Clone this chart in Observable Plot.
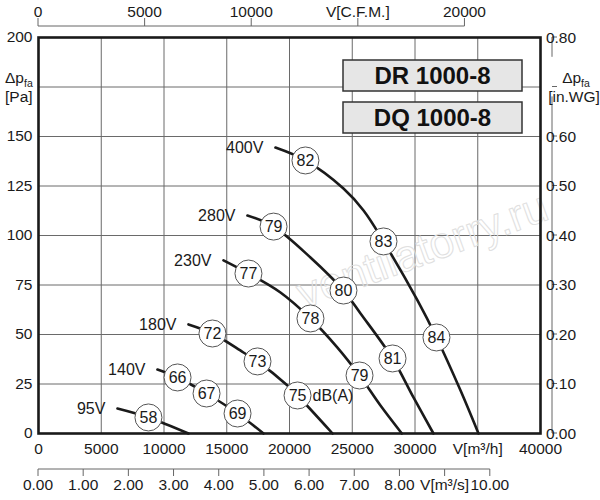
<!DOCTYPE html>
<html>
<head>
<meta charset="utf-8">
<script src="https://cdn.jsdelivr.net/npm/d3@7"></script>
<script src="https://cdn.jsdelivr.net/npm/@observablehq/plot@0.6"></script>
<style>
  html, body { margin: 0; padding: 0; background: #fff; }
  #chart svg { display: block; }
</style>
</head>
<body>
<div id="chart"></div>
<script>
// ---------- data ----------
const models = ["DR 1000-8", "DQ 1000-8"];

const xTicks = [0, 5000, 10000, 15000, 20000, 25000, 30000, 35000, 40000];
const xTickLabels = ["0", "5000", "10000", "15000", "20000", "25000", "30000", "V[m³/h]", "40000"];
const yTicks = [0, 25, 50, 75, 100, 125, 150, 175, 200];
const yTickLabels = ["0", "25", "50", "75", "100", "125", "150", "", "200"];

const cfmTicks = [0, 5000, 10000, 15000, 20000];
const cfmTickLabels = ["0", "5000", "10000", "V[C.F.M.]", "20000"];
const m3sTicks = [0, 1, 2, 3, 4, 5, 6, 7, 8, 9, 10];
const m3sTickLabels = ["0.00", "1.00", "2.00", "3.00", "4.00", "5.00", "6.00", "7.00", "8.00", "V[m³/s]", "10.00"];
const inwgTicks = [0, 0.1, 0.2, 0.3, 0.4, 0.5, 0.6, 0.7, 0.8];
const inwgTickLabels = ["0.00", "0.10", "0.20", "0.30", "0.40", "0.50", "0.60", "", "0.80"];

const voltages = ["400V", "280V", "230V", "180V", "140V", "95V"];
const flow400V = [18880, 21270, 24300, 25900, 27490, 30200, 31710, 33630, 35060];
const pres400V = [144.4, 137.9, 123.7, 112.6, 97.0, 67.2, 48.5, 21.7, 0];
const flow280V = [16650, 18730, 21670, 24300, 25660, 28210, 29880, 31470];
const pres280V = [110.1, 104.5, 88.9, 72.2, 60.6, 37.9, 18.2, 0];
const flow230V = [14740, 16730, 19280, 21670, 23820, 25580, 27250, 28950];
const pres230V = [87.4, 80.8, 71.2, 58.1, 43.4, 29.3, 14.1, 0];
const flow180V = [11950, 13860, 16330, 17450, 19840, 20640, 23430];
const pres180V = [55.1, 50.5, 40.9, 36.4, 24.2, 19.2, 0];
const flow140V = [9480, 11080, 13390, 15860, 17930];
const pres140V = [32.3, 28.3, 20.2, 10.1, 0];
const flow95V = [6290, 8760, 11950];
const pres95V = [12.6, 8.1, 0];

const noiseFlow = [21270, 27490, 31710, 18730, 24300, 28210, 16730, 21670, 25580, 13860, 17450, 20640, 11080, 13390, 15860, 8760];
const noisePres = [137.9, 97.0, 48.5, 104.5, 72.2, 37.9, 80.8, 58.1, 29.3, 50.5, 36.4, 19.2, 28.3, 20.2, 10.1, 8.1];
const noiseDb   = [82, 83, 84, 79, 80, 81, 77, 78, 79, 72, 73, 75, 66, 67, 69, 58];
const noiseUnit = "dB(A)";
const noiseUnitIndex = 11; // the "75" bubble carries the unit

const watermark = "ventilatorry.ru";

// ---------- derived tables ----------
const flows = [flow400V, flow280V, flow230V, flow180V, flow140V, flow95V];
const press = [pres400V, pres280V, pres230V, pres180V, pres140V, pres95V];
const curveRows = voltages.flatMap((v, k) => flows[k].map((f, i) => ({v, flow: f, p: press[k][i]})));
const startRows = voltages.map((v, k) => ({v, flow: flows[k][0], p: press[k][0]}));
const noiseRows = noiseDb.map((d, i) => ({db: String(d), flow: noiseFlow[i], p: noisePres[i]}));
const xLab = new Map(xTicks.map((t, i) => [t, xTickLabels[i]]));
const yLab = new Map(yTicks.map((t, i) => [t, yTickLabels[i]]));

const FONT = "'Liberation Sans', Arial, Helvetica, sans-serif";
const INK = "#1a1a1a";
const GRID = "#6a6a6a";
const AXIS = "#666";

const plot = Plot.plot({
  width: 600,
  height: 500,
  marginLeft: 38,
  marginRight: 60,
  marginTop: 37,
  marginBottom: 67,
  style: {fontFamily: FONT, fontSize: "15.5px", color: INK, background: "#fff", overflow: "visible"},
  x: {domain: [0, 40000], axis: null, label: null},
  y: {domain: [0, 200], axis: null, label: null},
  marks: [
    Plot.ruleX(xTicks, {stroke: GRID, strokeWidth: 1}),
    Plot.ruleY(yTicks, {stroke: GRID, strokeWidth: 1}),
    Plot.text([watermark], {frameAnchor: "middle", dx: 133, dy: 15, rotate: -20, fontSize: 44,
      fill: "none", stroke: "#e0e0e0", strokeWidth: 1, fontFamily: FONT}),
    Plot.line(curveRows, {x: "flow", y: "p", z: "v", stroke: INK, strokeWidth: 2.6, curve: "catmull-rom"}),
    Plot.text(startRows, {x: "flow", y: "p", text: "v", textAnchor: "end", dx: -12, fontSize: 16, fill: INK}),
    Plot.dot(noiseRows, {x: "flow", y: "p", r: 13.5, fill: "#fff", stroke: "#555", strokeWidth: 1}),
    Plot.text(noiseRows, {x: "flow", y: "p", text: "db", fontSize: 16, fill: INK}),
    Plot.text([noiseRows[noiseUnitIndex]], {x: "flow", y: "p", text: () => noiseUnit, textAnchor: "start",
      dx: 15, fontSize: 16, fill: INK}),
    Plot.frame({stroke: INK, strokeWidth: 2.6}),
    Plot.axisY(yTicks, {anchor: "left", label: null, tickSize: 0, tickPadding: 6, tickFormat: d => yLab.get(d), fontSize: 15.5}),
    Plot.axisX(xTicks, {anchor: "bottom", label: null, tickSize: 0, tickPadding: 9, tickFormat: d => xLab.get(d), fontSize: 15.5})
  ]
});

document.getElementById("chart").appendChild(plot);

// ---------- secondary axes, unit labels and model boxes ----------
const svg = d3.select(plot);
const X = plot.scale("x"), Y = plot.scale("y");
const CFM_TO_M3H = 1.699;      // 1 CFM = 1.699 m3/h
const M3S_TO_M3H = 3600;
const INWG_TO_PA = 250;         // axis scaled so 0.80 in.WG aligns with 200 Pa

const g = svg.append("g").attr("font-family", FONT).attr("font-size", 15.5).attr("fill", INK);

// top axis: C.F.M.
const topY = Y.apply(200) - 11;
g.append("line").attr("x1", X.apply(0)).attr("x2", X.apply(cfmTicks[cfmTicks.length - 1] * CFM_TO_M3H))
  .attr("y1", topY).attr("y2", topY).attr("stroke", AXIS);
cfmTicks.forEach((c, i) => {
  const px = X.apply(c * CFM_TO_M3H);
  g.append("line").attr("x1", px).attr("x2", px).attr("y1", topY).attr("y2", topY - 8).attr("stroke", AXIS);
  g.append("text").attr("x", px).attr("y", topY - 9).attr("text-anchor", "middle").text(cfmTickLabels[i]);
});

// bottom secondary axis: m3/s
const botY = Y.apply(0) + 36;
g.append("line").attr("x1", X.apply(0)).attr("x2", X.apply(m3sTicks[m3sTicks.length - 1] * M3S_TO_M3H))
  .attr("y1", botY).attr("y2", botY).attr("stroke", AXIS);
m3sTicks.forEach((c, i) => {
  const px = X.apply(c * M3S_TO_M3H);
  g.append("line").attr("x1", px).attr("x2", px).attr("y1", botY).attr("y2", botY + 7).attr("stroke", AXIS);
  g.append("text").attr("x", px).attr("y", botY + 21).attr("text-anchor", "middle").text(m3sTickLabels[i]);
});

// right axis: in.WG
const rightX = X.apply(40000) + 12;
g.append("line").attr("x1", rightX).attr("x2", rightX)
  .attr("y1", Y.apply(200)).attr("y2", Y.apply(190)).attr("stroke", AXIS);
g.append("line").attr("x1", rightX).attr("x2", rightX)
  .attr("y1", Y.apply(170)).attr("y2", Y.apply(0)).attr("stroke", AXIS);
inwgTicks.forEach((w, i) => {
  const py = Y.apply(w * INWG_TO_PA);
  g.append("line").attr("x1", rightX).attr("x2", rightX + 5).attr("y1", py).attr("y2", py).attr("stroke", AXIS);
  g.append("text").attr("x", rightX + 9).attr("y", py).attr("dy", "0.36em").text(inwgTickLabels[i]);
});

// unit labels Δp_fa
function dpLabel(x, anchor, unit, unitX) {
  const t = g.append("text").attr("x", x).attr("y", 83).attr("text-anchor", anchor);
  t.append("tspan").text("Δp");
  t.append("tspan").attr("font-size", 10.5).attr("dy", 4).text("fa");
  g.append("text").attr("x", unitX).attr("y", 102).attr("text-anchor", anchor).text(unit);
}
dpLabel(5, "start", "[Pa]", 5);
dpLabel(576, "middle", "[in.WG]", 574);

// model boxes
const boxX0 = 343, boxW = 179, boxH = 31;
const boxTops = [60, 102];
models.forEach((m, i) => {
  g.append("rect").attr("x", boxX0).attr("y", boxTops[i]).attr("width", boxW).attr("height", boxH)
    .attr("fill", "#e6e6e6").attr("stroke", "#333").attr("stroke-width", 1.5);
  g.append("text").attr("x", boxX0 + boxW / 2).attr("y", boxTops[i] + boxH / 2).attr("dy", "0.36em")
    .attr("text-anchor", "middle").attr("font-size", 24).attr("font-weight", "bold").attr("fill", "#111").text(m);
});
</script>
</body>
</html>
